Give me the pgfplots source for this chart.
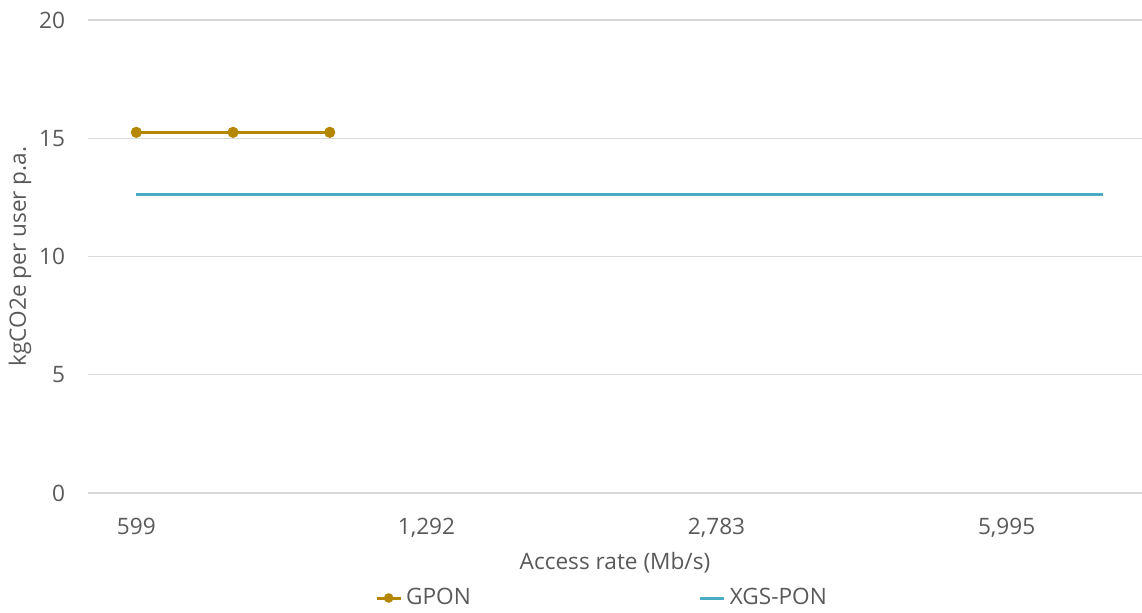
\documentclass[border=0pt]{standalone}
\usepackage{pgfplots}
\pgfplotsset{compat=1.18}
\usepackage{fontspec}
\setmainfont{Open Sans}
\definecolor{txt}{RGB}{89,89,89}
\definecolor{gridc}{RGB}{217,217,217}
\definecolor{gpon}{RGB}{181,134,0}
\definecolor{xgs}{RGB}{75,172,198}
\begin{document}
\begin{tikzpicture}
\begin{axis}[
  scale only axis,
  width=527pt, height=236.5pt,
  at={(0,0)}, anchor=south west,
  xmin=-0.5, xmax=10.4,
  ymin=0, ymax=20,
  ytick={0,5,10,15,20},
  xtick={0,3,6,9},
  xticklabels={599,{1,292},{2,783},{5,995}},
  xmajorgrids=false,
  ymajorgrids=true, grid style={draw=gridc, line width=0.6pt},
  axis line style={draw=none},
  major tick length=0pt,
  tick label style={font=\fontsize{11.3}{13}\selectfont, text=txt},
  /pgf/number format/assume math mode=true,
  xticklabel style={yshift=-9pt},
  yticklabel style={xshift=-8pt},
  xlabel={Access rate (Mb/s)},
  ylabel={kgCO2e per user p.a.},
  label style={font=\fontsize{11.3}{13}\selectfont, text=txt},
  xlabel style={at={(rel axis cs:0.5,0)}, anchor=center, yshift=-35pt},
  ylabel style={at={(rel axis cs:0,0.5)}, anchor=center, yshift=34pt},
  legend style={at={(rel axis cs:0.5,0)}, anchor=center, yshift=-52.5pt, xshift=-6pt,
    draw=none, fill=none, font=\fontsize{11.3}{13}\selectfont, text=txt,
    legend columns=2,
    /tikz/every even column/.append style={column sep=112pt}},
  legend image code/.code={\draw[#1, mark size=1.6pt] (0pt,0pt) -- (12pt,0pt); \draw[#1, mark size=1.6pt] plot coordinates {(6pt,0pt)};},
]
\addplot[gpon, line width=1.5pt, mark=*, mark size=2pt] coordinates {(0,15.25) (1,15.25) (2,15.25)};
\addlegendentry{GPON}
\addplot[xgs, line width=1.5pt, no markers] coordinates {(0,12.61) (1,12.61) (2,12.61) (3,12.61) (4,12.61) (5,12.61) (6,12.61) (7,12.61) (8,12.61) (9,12.61) (10,12.61)};
\addlegendentry{XGS-PON}
\end{axis}
\pgfresetboundingbox
\path[use as bounding box] (-44pt,-59.5pt) rectangle (527pt,246.5pt);
\end{tikzpicture}
\end{document}
